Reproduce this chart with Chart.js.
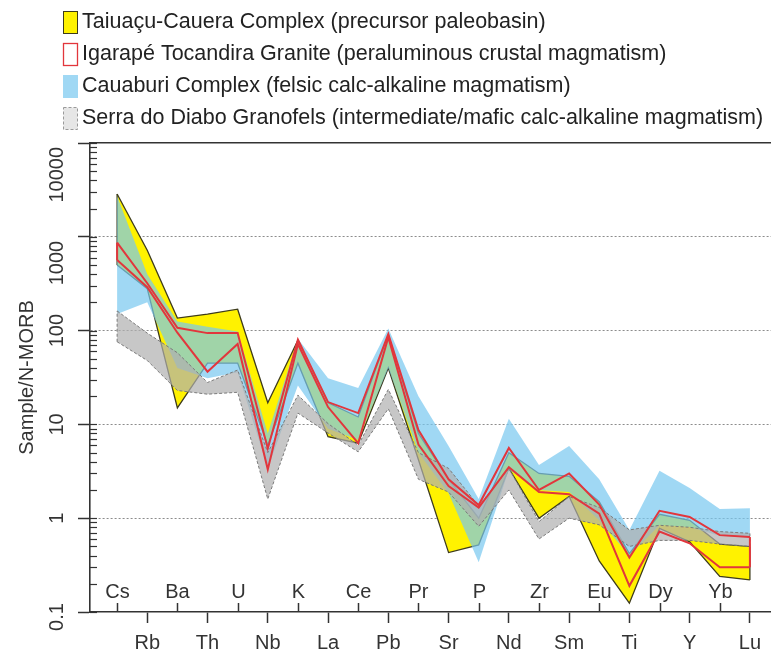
<!DOCTYPE html>
<html>
<head>
<meta charset="utf-8">
<script src="https://cdn.jsdelivr.net/npm/chart.js@4.4.1/dist/chart.umd.min.js"></script>
<style>
  html, body { margin: 0; padding: 0; background: #fff; }
  #c { display: block; }
</style>
</head>
<body>
<canvas id="c" width="771" height="652"></canvas>
<script>
// Elements of the N-MORB normalised multi-element diagram
const elements = ['Cs','Rb','Ba','Th','U','Nb','K','La','Ce','Pb','Pr','Sr','P','Nd','Zr','Sm','Eu','Ti','Dy','Y','Yb','Lu'];

// Taiuaçu-Cauera Complex envelope
const taiuacuHigh = [2860, 720, 136, 150, 169, 17, 79, 17, 12, 90, 8.0, 2.6, 1.0, 5.0, 3.0, 2.8, 1.5, 0.42, 1.1, 0.95, 0.53, 0.50];
const taiuacuLow  = [500, 280, 15, 45, 45, 6.0, 45, 7.4, 6.3, 40, 4.2, 0.43, 0.52, 3.4, 1.0, 1.7, 0.35, 0.124, 0.78, 0.56, 0.24, 0.22];

// Igarapé Tocandira Granite envelope (outline only)
const igarapeHigh = [865, 320, 107, 94, 94, 5.5, 80, 17.3, 13.2, 92, 8.7, 2.6, 1.38, 5.6, 2.0, 3.0, 1.4, 0.38, 1.2, 1.03, 0.66, 0.63];
const igarapeLow  = [566, 290, 95, 36.5, 72, 3.3, 72, 15.3, 6.3, 85, 6.1, 2.2, 1.3, 3.5, 1.9, 1.8, 1.12, 0.19, 0.72, 0.54, 0.30, 0.30];

// Cauaburi Complex envelope
const cauaburiHigh = [2700, 400, 125, 110, 98, 8.0, 82, 31, 24.5, 105, 20, 5.9, 1.6, 11.5, 3.7, 5.9, 2.6, 0.75, 3.2, 2.1, 1.25, 1.28];
const cauaburiLow  = [150, 200, 40, 31, 36, 3.4, 26, 9, 6.8, 40, 5.0, 1.85, 0.34, 3.3, 2.0, 1.9, 0.95, 0.40, 0.84, 0.8, 0.65, 0.62];

// Serra do Diabo Granofels envelope
const serraHigh = [162, 94, 58, 28, 38, 5.0, 20.5, 10.2, 6.0, 23.6, 5.0, 3.4, 1.35, 3.4, 0.92, 1.7, 1.3, 0.75, 0.84, 0.8, 0.72, 0.69];
const serraLow  = [76, 48, 23, 21, 22, 1.6, 13.2, 8.1, 5.1, 14.7, 2.6, 1.9, 0.82, 2.0, 0.6, 1.0, 0.85, 0.5, 0.58, 0.58, 0.53, 0.50];

// Axis tick values
const yMajorTicks = [0.1, 1, 10, 100, 1000, 10000];
const yGridValues = [1, 10, 100, 1000];

const legendLabels = [
  'Taiuaçu-Cauera Complex (precursor paleobasin)',
  'Igarapé Tocandira Granite (peraluminous crustal magmatism)',
  'Cauaburi Complex (felsic calc-alkaline magmatism)',
  'Serra do Diabo Granofels (intermediate/mafic calc-alkaline magmatism)'
];

const FONT = '"Liberation Sans", Arial, Helvetica, sans-serif';
const INK = '#333333';
const YELLOW = '#fff200';
const YELLOW_EDGE = '#3d3b1c';
const RED = '#e2363c';
const BLUE = 'rgba(120, 200, 240, 0.7)';
const GRAY = 'rgba(175, 175, 175, 0.7)';
const GRAY_EDGE = '#7a7a7a';

const pts = arr => arr.map((v, i) => ({ x: i, y: v }));
const cap = (lo, hi, i) => [{ x: i, y: lo[i] }, { x: i, y: hi[i] }];
const last = elements.length - 1;

const base = { pointRadius: 0, pointHoverRadius: 0, tension: 0, fill: false };

function envelope(hi, lo, style, order) {
  return [
    Object.assign({}, base, { data: pts(hi), order: order, borderColor: style.edge, borderWidth: style.width, borderDash: style.dash }),
    Object.assign({}, base, { data: pts(lo), order: order, fill: '-1', backgroundColor: style.fill, borderColor: style.edge, borderWidth: style.width, borderDash: style.dash })
  ];
}
function caps(hi, lo, style, order) {
  return [cap(lo, hi, 0), cap(lo, hi, last)].map(d =>
    Object.assign({}, base, { data: d, order: order, borderColor: style.edge, borderWidth: style.width, borderDash: style.dash }));
}

const yellowStyle = { fill: YELLOW, edge: YELLOW_EDGE, width: 1.3, dash: [] };
const blueStyle = { fill: BLUE, edge: 'rgba(0,0,0,0)', width: 0, dash: [] };
const grayStyle = { fill: GRAY, edge: GRAY_EDGE, width: 1, dash: [3, 2] };
const redStyle = { fill: 'rgba(0,0,0,0)', edge: RED, width: 2, dash: [] };

const datasets = [].concat(
  envelope(taiuacuHigh, taiuacuLow, yellowStyle, 50),
  caps(taiuacuHigh, taiuacuLow, yellowStyle, 49),
  envelope(cauaburiHigh, cauaburiLow, blueStyle, 40),
  envelope(serraHigh, serraLow, grayStyle, 30),
  caps(serraHigh, serraLow, grayStyle, 29),
  [Object.assign({}, base, { data: pts(igarapeHigh), order: 10, borderColor: RED, borderWidth: 2 }),
   Object.assign({}, base, { data: pts(igarapeLow), order: 10, borderColor: RED, borderWidth: 2 })],
  caps(igarapeHigh, igarapeLow, redStyle, 9)
);

// Legend, inner x labels, inward ticks and rotated y labels
const decor = {
  id: 'decor',
  afterDraw(chart) {
    const { ctx, chartArea, scales } = chart;
    const x = scales.x, y = scales.y;
    ctx.save();

    // inward tick marks on the y axis
    ctx.strokeStyle = INK;
    ctx.lineWidth = 1.2;
    y.ticks.forEach(t => {
      const py = Math.round(y.getPixelForValue(t.value)) + 0.5;
      ctx.beginPath();
      ctx.moveTo(chartArea.left, py);
      ctx.lineTo(chartArea.left + 7, py);
      ctx.stroke();
    });

    // y tick labels, rotated; long ones hang below their tick
    ctx.fillStyle = INK;
    ctx.font = '20px ' + FONT;
    ctx.textBaseline = 'middle';
    yMajorTicks.forEach(v => {
      const py = y.getPixelForValue(v);
      const s = String(v);
      ctx.save();
      ctx.translate(57, py);
      ctx.rotate(-Math.PI / 2);
      if (s.length >= 4) { ctx.textAlign = 'right'; ctx.fillText(s, -4, 0); }
      else if (v === yMajorTicks[0]) { ctx.textAlign = 'center'; ctx.fillText(s, -5, 0); }
      else { ctx.textAlign = 'center'; ctx.fillText(s, 0, 0); }
      ctx.restore();
    });

    // upward ticks and labels for the inner row of elements
    ctx.textAlign = 'center';
    ctx.lineWidth = 1.5;
    elements.forEach((el, i) => {
      if (i % 2 !== 0) return;
      const px = Math.round(x.getPixelForValue(i)) + 0.5;
      ctx.beginPath();
      ctx.moveTo(px, chartArea.bottom);
      ctx.lineTo(px, chartArea.bottom - 9);
      ctx.stroke();
      ctx.fillText(el, px, chartArea.bottom - 20);
    });

    // legend
    const rows = [22, 54, 86, 118];
    ctx.font = '21.5px ' + FONT;
    ctx.textAlign = 'left';
    ctx.fillStyle = '#222';
    legendLabels.forEach((lab, i) => {
      const cy = rows[i];
      const bx = 63.5, by = Math.round(cy - 11) + 0.5, bw = 14, bh = 22;
      ctx.save();
      if (i === 0) { ctx.fillStyle = YELLOW; ctx.fillRect(bx, by, bw, bh); ctx.strokeStyle = YELLOW_EDGE; ctx.lineWidth = 1; ctx.strokeRect(bx, by, bw, bh); }
      if (i === 1) { ctx.fillStyle = '#fff'; ctx.fillRect(bx, by, bw, bh); ctx.strokeStyle = RED; ctx.lineWidth = 1.3; ctx.strokeRect(bx, by, bw, bh); }
      if (i === 2) { ctx.fillStyle = BLUE; ctx.fillRect(bx - 0.5, by - 0.5, bw + 1, bh + 1); }
      if (i === 3) { ctx.fillStyle = '#e6e6e6'; ctx.fillRect(bx, by, bw, bh); ctx.strokeStyle = '#9a9a9a'; ctx.lineWidth = 1; ctx.setLineDash([3, 2]); ctx.strokeRect(bx, by, bw, bh); }
      ctx.restore();
      ctx.fillText(lab, 82, cy);
    });
    ctx.restore();
  }
};

new Chart(document.getElementById('c'), {
  type: 'line',
  data: { datasets: datasets },
  plugins: [decor],
  options: {
    responsive: false,
    animation: false,
    events: [],
    devicePixelRatio: 1,
    layout: { padding: { top: 143, left: 0, right: 0, bottom: 0 } },
    plugins: {
      legend: { display: false },
      tooltip: { enabled: false },
      filler: { propagate: false }
    },
    scales: {
      x: {
        type: 'linear',
        position: 'bottom',
        min: -0.9,
        max: 21.7,
        afterBuildTicks: s => { s.ticks = elements.map((e, i) => ({ value: i })); },
        afterFit: s => { s.height = 40; },
        ticks: {
          autoSkip: false,
          maxRotation: 0,
          minRotation: 0,
          padding: 8,
          color: INK,
          font: { family: FONT, size: 20 },
          callback: v => (v % 2 === 1 ? elements[v] : '')
        },
        grid: {
          drawOnChartArea: false,
          tickLength: 11,
          tickWidth: 1.5,
          tickColor: c => (c.tick && c.tick.value % 2 === 1 ? INK : 'rgba(0,0,0,0)')
        },
        border: { color: INK, width: 1.6 }
      },
      xTop: {
        type: 'linear',
        position: 'top',
        min: -0.9,
        max: 21.7,
        afterFit: s => { s.height = 0; },
        ticks: { display: false },
        grid: { display: false },
        border: { display: true, color: INK, width: 1.6 }
      },
      y: {
        type: 'logarithmic',
        min: 0.1,
        max: 10000,
        afterBuildTicks: s => {
          const t = [];
          yMajorTicks.slice(0, -1).forEach(d => {
            for (let k = 1; k < 10; k++) t.push({ value: +(k * d).toPrecision(3), major: k === 1 });
          });
          t.push({ value: 10000, major: true });
          s.ticks = t;
        },
        afterFit: s => { s.width = 90; },
        ticks: { display: false, autoSkip: false },
        title: {
          display: true,
          text: 'Sample/N-MORB',
          color: INK,
          font: { family: FONT, size: 20 },
          padding: { top: 15, bottom: 0 }
        },
        grid: {
          lineWidth: 1,
          color: c => (c.tick && yGridValues.includes(c.tick.value) ? '#8c8c8c' : 'rgba(0,0,0,0)'),
          tickLength: 12,
          tickWidth: 1.5,
          tickColor: c => (c.tick && yMajorTicks.includes(c.tick.value) ? INK : 'rgba(0,0,0,0)')
        },
        border: { color: INK, width: 1.6, dash: [2, 2] }
      }
    }
  }
});
</script>
</body>
</html>
